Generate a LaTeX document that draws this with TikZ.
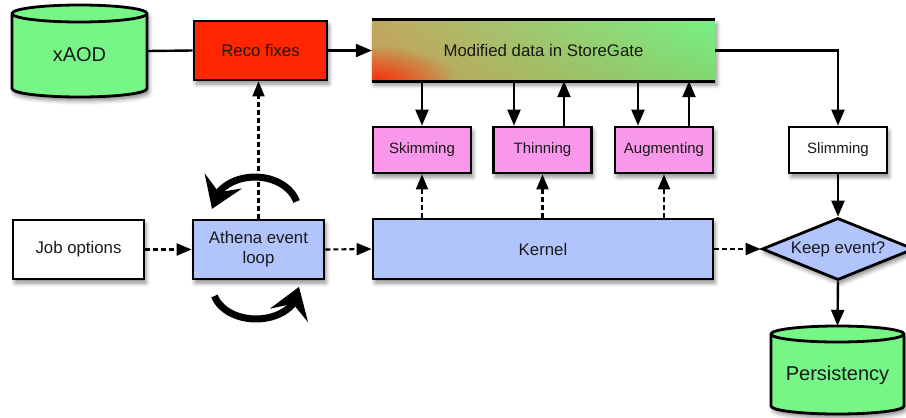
\documentclass[tikz,border=0pt]{standalone}
\usepackage{fontspec}
\setmainfont{Liberation Sans}
\usetikzlibrary{arrows.meta,bending,shapes.geometric,shadows,shadows.blur,fadings,shadings,calc}

\definecolor{dbgreen}{RGB}{120,245,135}
\definecolor{recored}{RGB}{255,38,0}
\definecolor{toolpink}{RGB}{249,152,234}
\definecolor{loopblue}{RGB}{178,196,252}
\definecolor{modtan}{RGB}{192,168,96}
\definecolor{modtanlow}{RGB}{200,158,88}
\definecolor{modgreen}{RGB}{118,242,132}
\definecolor{modgreenlow}{RGB}{128,215,112}
\definecolor{modred}{RGB}{248,45,10}

\tikzfading[name=redspot, inner color=transparent!0, outer color=transparent!100]

% cylinder: centre x, centre y, width, height, x radius, y radius of the rim
\newcommand\drumshape[6]{%
  \filldraw[drum] ({#1-#5},{#2-#4/2+#6}) -- ({#1-#5},{#2+#4/2-#6})
    arc[start angle=180, end angle=0, x radius=#5, y radius=#6]
    -- ({#1+#5},{#2-#4/2+#6})
    arc[start angle=0, end angle=-180, x radius=#5, y radius=#6] -- cycle;
  \draw[drumrim] ({#1-#5},{#2-#4/2+#6})
    arc[start angle=180, end angle=0, x radius=#5, y radius=#6];
}

\tikzset{
  softshadow/.style={blur shadow={shadow xshift=2pt, shadow yshift=-4pt,
      shadow blur radius=4pt, shadow opacity=45}},
  mainfont/.style={font=\fontsize{16.8}{20}\selectfont, text=black!90},
  smallfont/.style={font=\fontsize{15}{18}\selectfont, text=black!90},
  bigfont/.style={font=\fontsize{20}{24}\selectfont, text=black!90},
  box/.style={rectangle, draw=black, line width=2.8pt, inner sep=0pt,
      mainfont, softshadow},
  toolbox/.style={box, smallfont, minimum width=98pt, minimum height=46pt},
  drum/.style={fill=dbgreen, draw=black, line width=2.8pt, softshadow},
  drumrim/.style={draw=black, line width=2.8pt},
  flow/.style={draw=black, line width=2.4pt, -{Triangle[length=16pt,width=13pt]}},
  plainflow/.style={draw=black, line width=2.4pt},
  ctrl/.style={draw=black, line width=2.1pt, dash pattern=on 5pt off 3pt,
      -{Triangle[length=15pt,width=12pt]}},
  looparrow/.style={draw=black, line width=7pt,
      -{Stealth[length=30pt,width=40pt,inset=12pt]}},
}

\begin{document}
\begin{tikzpicture}[x=1pt, y=-1pt]
\useasboundingbox (0,0) rectangle (906,418);

% storage drums
\drumshape{79.5}{51}{135}{92}{67.5}{8.5}
\drumshape{837.5}{370}{133}{88}{66.5}{8}
\node[bigfont, minimum width=135pt, minimum height=92pt, inner sep=0pt,
  text height=22pt, text depth=1.6pt] (xaod) at (79.5,51) {xAOD};
\node[bigfont, minimum width=133pt, minimum height=88pt, inner sep=0pt,
  text height=23pt, text depth=1.6pt] (pers) at (837.5,370) {Persistency};

% top row
\node[box, fill=recored, minimum width=133pt, minimum height=59pt]
  (reco) at (260.5,50.5) {Reco fixes};
\node[mainfont, rectangle, inner sep=0pt, minimum width=343pt, minimum height=61pt,
  fill=modtan, softshadow,
  path picture={
    \shade[upper left=modtan, lower left=modtanlow, upper right=modgreen,
      lower right=modgreenlow]
      (path picture bounding box.south west) rectangle (path picture bounding box.north east);
    \fill[modred, path fading=redspot]
      (path picture bounding box.south west) ellipse (85pt and 36pt);
  }] (mod) at (543.5,50.5) {Modified data in StoreGate};
\draw[line width=2.8pt] (mod.north west) -- (mod.north east);
\draw[line width=2.8pt] (mod.south west) -- (mod.south east);

% tools
\node[toolbox, fill=toolpink] (skim) at (422,150) {Skimming};
\node[toolbox, fill=toolpink] (thin) at (542.5,150) {Thinning};
\node[toolbox, fill=toolpink] (aug)  at (664,150) {Augmenting};
\node[toolbox, fill=white]    (slim) at (838,150) {Slimming};

% bottom row
\node[box, fill=white, minimum width=131pt, minimum height=59pt]
  (job) at (78.5,249.5) {Job options};
\node[box, fill=loopblue, minimum width=131pt, minimum height=59pt, align=center]
  (athena) at (258.5,249.5) {Athena event\\loop};
\node[box, fill=loopblue, minimum width=340pt, minimum height=60pt]
  (kernel) at (543,249) {Kernel};
\node[diamond, draw=black, line width=2.8pt, fill=loopblue, inner sep=0pt,
  aspect=2.45, minimum width=152pt, minimum height=62pt, mainfont, softshadow]
  (keep) at (838,249) {Keep event?};

% data flow
\draw[plainflow] (xaod.east) -- (reco.west);
\draw[flow] (reco.east) -- (mod.west);
\draw[flow] (mod.east) -| (slim.north);
\draw[flow] (slim.south) -- (keep.north);
\draw[flow] (keep.south) -- (pers.north);

\draw[flow] (skim.north |- mod.south) -- (skim.north);
\draw[flow] ([xshift=-28.5pt]thin.north |- mod.south) -- ([xshift=-28.5pt]thin.north);
\draw[flow] ([xshift=21.5pt]thin.north) -- ([xshift=21.5pt]thin.north |- mod.south);
\draw[flow] ([xshift=-26pt]aug.north |- mod.south) -- ([xshift=-26pt]aug.north);
\draw[flow] ([xshift=25pt]aug.north) -- ([xshift=25pt]aug.north |- mod.south);

% control flow
\draw[ctrl] (job.east) -- (athena.west);
\draw[ctrl] (athena.east) -- (kernel.west);
\draw[ctrl] (kernel.east) -- (keep.west);
\draw[ctrl] (athena.north) -- (athena.north |- reco.south);
\draw[ctrl] (kernel.north -| skim.south) -- (skim.south);
\draw[ctrl] (kernel.north -| thin.south) -- (thin.south);
\draw[ctrl] (kernel.north -| aug.south) -- (aug.south);

% event loop arrows
\coordinate (looptop) at (296.5,201.5);
\coordinate (loopbot) at (214.5,296);
\draw[looparrow] (looptop) arc[start angle=-15, end angle=-178, x radius=43, y radius=33];
\draw[looparrow] (loopbot) arc[start angle=165, end angle=-2, x radius=43, y radius=31];
\end{tikzpicture}
\end{document}
